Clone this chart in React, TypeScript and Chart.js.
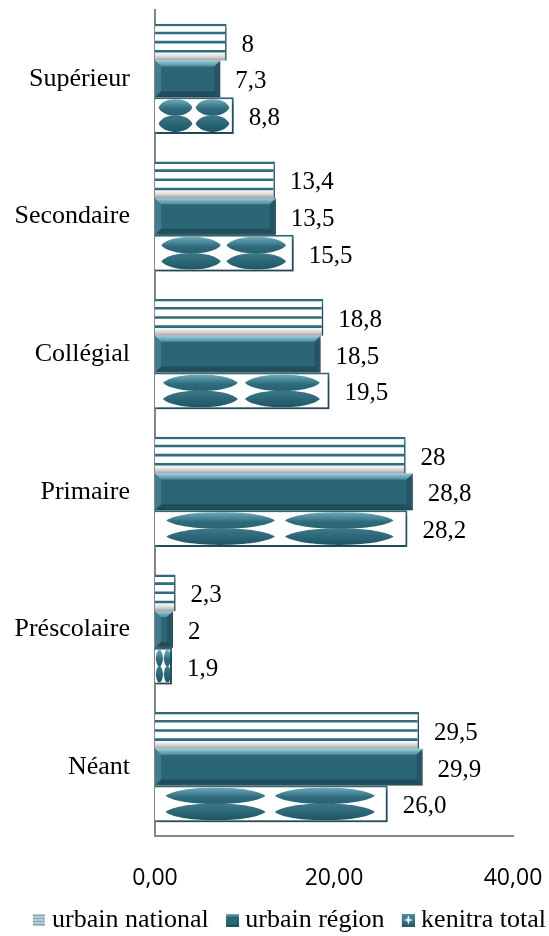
import React, { useEffect, useRef } from 'react';
import { Chart, registerables } from 'chart.js';

Chart.register(...registerables);

const categories = ['Supérieur', 'Secondaire', 'Collégial', 'Primaire', 'Préscolaire', 'Néant'];
const seriesNames = ['urbain national', 'urbain région', 'kenitra total'];
const urbainNational = [8, 13.4, 18.8, 28, 2.3, 29.5];
const urbainRegion = [7.3, 13.5, 18.5, 28.8, 2, 29.9];
const kenitraTotal = [8.8, 15.5, 19.5, 28.2, 1.9, 26.0];
const nationalLabels = ['8', '13,4', '18,8', '28', '2,3', '29,5'];
const regionLabels = ['7,3', '13,5', '18,5', '28,8', '2', '29,9'];
const kenitraLabels = ['8,8', '15,5', '19,5', '28,2', '1,9', '26,0'];
const xTicks = [0, 20, 40];

const TEAL = '#2b6576';
const TEAL_LINE = '#2e6d7e';

function makeIcon(kind: number): HTMLCanvasElement {
  const c = document.createElement('canvas');
  c.width = 34;
  c.height = 13;
  const g = c.getContext('2d') as CanvasRenderingContext2D;
  g.translate(21, 0);
  if (kind === 0) {
    g.fillStyle = '#eef3f6';
    g.fillRect(0, 0, 12, 13);
    g.strokeStyle = '#6d8fa3';
    g.lineWidth = 1.6;
    for (let k = 0; k < 4; k++) {
      const yy = 2 + k * 3;
      g.beginPath();
      g.moveTo(0, yy);
      g.lineTo(12, yy);
      g.stroke();
    }
  } else if (kind === 1) {
    const gr = g.createLinearGradient(0, 0, 0, 13);
    gr.addColorStop(0, '#7fb6c5');
    gr.addColorStop(0.3, '#2f6c7c');
    gr.addColorStop(1, '#1f5160');
    g.fillStyle = gr;
    g.fillRect(0, 0, 13, 13);
    g.fillStyle = '#2b6576';
    g.fillRect(2, 3, 9, 8);
  } else {
    const gr = g.createLinearGradient(0, 0, 0, 13);
    gr.addColorStop(0, '#4d8fa0');
    gr.addColorStop(1, '#235a69');
    g.fillStyle = gr;
    g.fillRect(0, 0, 13, 13);
    g.fillStyle = '#ffffff';
    g.beginPath();
    g.moveTo(6.5, 1.5);
    g.lineTo(7.6, 5.4);
    g.lineTo(11.5, 6.5);
    g.lineTo(7.6, 7.6);
    g.lineTo(6.5, 11.5);
    g.lineTo(5.4, 7.6);
    g.lineTo(1.5, 6.5);
    g.lineTo(5.4, 5.4);
    g.closePath();
    g.fill();
  }
  return c;
}

function lens(ctx: CanvasRenderingContext2D, cx: number, cy: number, rx: number, ry: number) {
  const k = 1.45;
  ctx.beginPath();
  ctx.moveTo(cx - rx, cy);
  ctx.bezierCurveTo(cx - rx * 0.7, cy - ry * k, cx + rx * 0.7, cy - ry * k, cx + rx, cy);
  ctx.bezierCurveTo(cx + rx * 0.7, cy + ry * k, cx - rx * 0.7, cy + ry * k, cx - rx, cy);
  ctx.closePath();
}

const barStylePlugin = {
  id: 'barStyle',
  beforeDatasetsDraw(chart: any) {
    const ctx = chart.ctx as CanvasRenderingContext2D;
    ctx.save();
    ctx.shadowColor = 'rgba(0,0,0,0.38)';
    ctx.shadowBlur = 4;
    ctx.shadowOffsetX = 2;
    ctx.shadowOffsetY = 3;
  },
  afterDatasetsDraw(chart: any) {
    const ctx = chart.ctx as CanvasRenderingContext2D;
    ctx.restore();
    const labelSets = [nationalLabels, regionLabels, kenitraLabels];
    chart.data.datasets.forEach((_ds: any, di: number) => {
      const meta = chart.getDatasetMeta(di);
      meta.data.forEach((el: any, i: number) => {
        const p = el.getProps(['x', 'y', 'base', 'height'], true);
        const left = Math.min(p.base, p.x);
        const right = Math.max(p.base, p.x);
        const top = p.y - p.height / 2;
        const bottom = p.y + p.height / 2;
        const w = right - left;
        const h = bottom - top;
        ctx.save();
        if (di === 0) {
          ctx.beginPath();
          ctx.rect(left, top, w, h);
          ctx.clip();
          const g = ctx.createLinearGradient(0, bottom - 9, 0, bottom);
          g.addColorStop(0, 'rgba(210,210,210,0)');
          g.addColorStop(1, 'rgba(140,140,140,0.85)');
          ctx.fillStyle = g;
          ctx.fillRect(left, bottom - 9, w - 1.5, 9);
          ctx.strokeStyle = TEAL_LINE;
          ctx.lineWidth = 2.6;
          for (let k = 1; k <= 3; k++) {
            const yy = top + (h * k) / 4;
            ctx.beginPath();
            ctx.moveTo(left, yy);
            ctx.lineTo(right - 1.5, yy);
            ctx.stroke();
          }
        } else if (di === 1) {
          const b = Math.min(6, w / 3, h / 3);
          const tg = ctx.createLinearGradient(0, top, 0, top + b);
          tg.addColorStop(0, 'rgba(160,212,226,0.95)');
          tg.addColorStop(1, 'rgba(95,155,172,0.75)');
          ctx.fillStyle = tg;
          ctx.beginPath();
          ctx.moveTo(left, top);
          ctx.lineTo(right, top);
          ctx.lineTo(right - b, top + b);
          ctx.lineTo(left + b, top + b);
          ctx.closePath();
          ctx.fill();
          ctx.fillStyle = 'rgba(15,50,60,0.3)';
          ctx.beginPath();
          ctx.moveTo(right, top);
          ctx.lineTo(right, bottom);
          ctx.lineTo(right - b, bottom - b);
          ctx.lineTo(right - b, top + b);
          ctx.closePath();
          ctx.fill();
          ctx.fillStyle = 'rgba(10,40,50,0.35)';
          ctx.beginPath();
          ctx.moveTo(left, bottom);
          ctx.lineTo(right, bottom);
          ctx.lineTo(right - b, bottom - b);
          ctx.lineTo(left + b, bottom - b);
          ctx.closePath();
          ctx.fill();
          ctx.fillStyle = 'rgba(110,170,185,0.35)';
          ctx.beginPath();
          ctx.moveTo(left, top);
          ctx.lineTo(left + b, top + b);
          ctx.lineTo(left + b, bottom - b);
          ctx.lineTo(left, bottom);
          ctx.closePath();
          ctx.fill();
        } else {
          ctx.beginPath();
          ctx.rect(left, top + 2, w - 2, h - 4);
          ctx.clip();
          const cols = [0.26, 0.73];
          const rows = [0.28, 0.72];
          rows.forEach((fy, ri) => {
            cols.forEach((fx) => {
              const cx = left + w * fx;
              const cy = top + h * fy;
              const rx = w * 0.215;
              const ry = h * 0.21;
              const g = ctx.createLinearGradient(0, cy - ry, 0, cy + ry);
              if (ri === 0) {
                g.addColorStop(0, '#6aa8b8');
                g.addColorStop(0.6, '#2e6a7b');
                g.addColorStop(1, '#2a6373');
              } else {
                g.addColorStop(0, '#3a7888');
                g.addColorStop(1, '#1f5666');
              }
              ctx.fillStyle = g;
              lens(ctx, cx, cy, rx, ry);
              ctx.fill();
            });
          });
        }
        ctx.restore();
        ctx.save();
        ctx.fillStyle = '#000';
        ctx.font = '25px "Liberation Serif", "Times New Roman", serif';
        ctx.textAlign = 'left';
        ctx.textBaseline = 'middle';
        ctx.fillText(labelSets[di][i], right + 15, p.y + 3);
        ctx.restore();
      });
    });
  },
};

export default function App() {
  const ref = useRef<HTMLCanvasElement | null>(null);
  useEffect(() => {
    if (!ref.current) return;
    const icons = [makeIcon(0), makeIcon(1), makeIcon(2)];
    const chart = new Chart(ref.current, {
      type: 'bar',
      data: {
        labels: categories,
        datasets: [
          {
            label: seriesNames[0],
            data: urbainNational,
            backgroundColor: '#ffffff',
            borderColor: TEAL_LINE,
            borderWidth: { top: 2.5, right: 1.5, bottom: 0, left: 0 } as any,
            borderSkipped: false as any,
          },
          {
            label: seriesNames[1],
            data: urbainRegion,
            backgroundColor: TEAL,
            borderColor: '#1d4a56',
            borderWidth: 1,
          },
          {
            label: seriesNames[2],
            data: kenitraTotal,
            backgroundColor: '#ffffff',
            borderColor: TEAL_LINE,
            borderWidth: 2,
          },
        ],
      },
      options: {
        indexAxis: 'y',
        animation: false,
        responsive: true,
        maintainAspectRatio: false,
        datasets: { bar: { categoryPercentage: 0.8, barPercentage: 1 } },
        layout: { padding: { top: 10, left: 0, right: 0, bottom: 0 } },
        plugins: {
          tooltip: { enabled: false },
          legend: {
            position: 'bottom',
            align: 'end',
            labels: {
              usePointStyle: true,
              boxWidth: 20.5,
              boxHeight: 13,
              padding: 3,
              color: '#000',
              font: { family: '"Liberation Serif", "Times New Roman", serif', size: 26 },
              generateLabels: () =>
                seriesNames.map((name, i) => ({
                  text: name,
                  pointStyle: icons[i] as any,
                  fillStyle: TEAL,
                  strokeStyle: 'transparent',
                  lineWidth: 0,
                  hidden: false,
                  datasetIndex: i,
                  fontColor: '#000',
                })),
            },
          },
        },
        scales: {
          x: {
            type: 'linear',
            min: 0,
            max: 40,
            grid: { display: false, drawTicks: false },
            border: { display: true, color: '#868686', width: 2 },
            afterBuildTicks: (s: any) => {
              s.ticks = xTicks.map((v) => ({ value: v }));
            },
            ticks: {
              color: '#000',
              padding: 29,
              font: { family: '"Open Sans", sans-serif', size: 23 },
              callback: (v: any) => Number(v).toFixed(2).replace('.', ','),
            },
            afterFit: (s: any) => {
              s.height = 68;
              s.paddingRight = 36;
              s.paddingLeft = 0;
            },
          },
          y: {
            type: 'category',
            grid: { display: false, drawTicks: false },
            border: { display: true, color: '#868686', width: 2 },
            ticks: {
              color: '#000',
              padding: 25,
              font: { family: '"Liberation Serif", "Times New Roman", serif', size: 26 },
            },
            afterFit: (s: any) => {
              s.width = 155;
              s.paddingTop = 0;
              s.paddingBottom = 0;
            },
          },
        },
      } as any,
      plugins: [barStylePlugin],
    });
    return () => chart.destroy();
  }, []);
  return (
    <div style={{ position: 'fixed', left: 0, top: 0, width: 549, height: 943, background: '#fff' }}>
      <canvas ref={ref} />
    </div>
  );
}
